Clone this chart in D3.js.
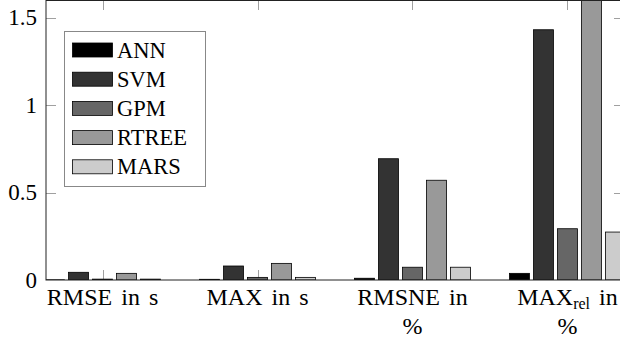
<!DOCTYPE html>
<html>
<head>
<meta charset="utf-8">
<script src="https://cdn.jsdelivr.net/npm/d3@7"></script>
</head>
<body style="margin:0">
<svg id="fig" width="620" height="339" style="display:block"></svg>
<script>
// ---- data ----
const categories = ["RMSE in s", "MAX in s", "RMSNE in %", "MAXrel in %"];
const series = ["ANN", "SVM", "GPM", "RTREE", "MARS"];
const ANN   = [0.001, 0.004, 0.010, 0.038];
const SVM   = [0.044, 0.080, 0.693, 1.430];
const GPM   = [0.005, 0.015, 0.073, 0.293];
const RTREE = [0.038, 0.095, 0.570, 1.750];
const MARS  = [0.005, 0.015, 0.073, 0.274];
const yTicks = [0, 0.5, 1, 1.5];
const yTickLabels = ["0", "0.5", "1", "1.5"];

const values = { ANN, SVM, GPM, RTREE, MARS };
const colors = { ANN: "#000000", SVM: "#333333", GPM: "#666666", RTREE: "#999999", MARS: "#cccccc" };

(function () {
  const FONT = "Liberation Serif";
  const FSTYLE = "font-family: 'Liberation Serif', serif !important";
  // ---- layout ----
  const svg = d3.select("#fig");
  const pLeft = 46, pRight = 624, pTop = 0.5, pBottom = 280;

  const x = d3.scalePoint().domain(categories).range([pLeft, pRight]).padding(0.365);
  const inner = d3.scaleBand().domain(series).range([-60, 60]).paddingInner(1/6).paddingOuter(1/12);
  const y = d3.scaleLinear().domain([0, 1.6]).range([pBottom, 0]);

  svg.append("defs").append("clipPath").attr("id", "clip")
    .append("rect").attr("x", pLeft).attr("y", 0).attr("width", pRight - pLeft).attr("height", pBottom);

  // ticks (drawn inside the frame)
  const tickG = svg.append("g").attr("stroke", "#a0a0a0").attr("stroke-width", 1);
  yTicks.forEach(t => {
    const yy = Math.round(y(t)) + 0.5;
    if (t === 0) return;
    tickG.append("line").attr("x1", pLeft).attr("x2", pLeft + 10).attr("y1", yy).attr("y2", yy);
    tickG.append("line").attr("x1", pRight - 10).attr("x2", pRight).attr("y1", yy).attr("y2", yy);
  });
  categories.forEach(c => {
    const xx = Math.round(x(c)) + 0.5;
    tickG.append("line").attr("x1", xx).attr("x2", xx).attr("y1", 0).attr("y2", 10);
    tickG.append("line").attr("x1", xx).attr("x2", xx).attr("y1", pBottom - 10).attr("y2", pBottom);
  });

  // bars
  const barsG = svg.append("g").attr("clip-path", "url(#clip)");
  series.forEach(s => {
    barsG.selectAll(null).data(categories.map((c, i) => ({ c, v: values[s][i] })))
      .enter().append("rect")
      .attr("x", d => x(d.c) + inner(s))
      .attr("width", inner.bandwidth())
      .attr("y", d => y(d.v))
      .attr("height", d => y(0) - y(d.v))
      .attr("fill", colors[s])
      .attr("stroke", "#000")
      .attr("stroke-width", 0.8);
  });

  // frame
  svg.append("rect")
    .attr("x", pLeft).attr("y", pTop).attr("width", pRight - pLeft).attr("height", pBottom - pTop)
    .attr("fill", "none").attr("stroke", "#222").attr("stroke-width", 1);

  // y tick labels
  yTicks.forEach((t, i) => {
    svg.append("text")
      .attr("x", pLeft - 9).attr("y", y(t)).attr("dy", "0.34em")
      .attr("text-anchor", "end").attr("font-size", 23)
      .attr("font-family", FONT).attr("style", FSTYLE)
      .text(yTickLabels[i]);
  });

  // x labels (wrapped like the reference)
  const xLabelLines = {
    "RMSE in s": ["RMSE in s"],
    "MAX in s": ["MAX in s"],
    "RMSNE in %": ["RMSNE in", "%"],
    "MAXrel in %": ["MAX_rel in", "%"]
  };
  categories.forEach(c => {
    xLabelLines[c].forEach((line, li) => {
      const t = svg.append("text")
        .attr("x", x(c)).attr("y", 305 + li * 29)
        .attr("text-anchor", "middle").attr("font-size", 24)
        .attr("word-spacing", 3)
        .attr("font-family", FONT).attr("style", FSTYLE);
      if (line.includes("_rel")) {
        const parts = line.split("_rel");
        t.append("tspan").text(parts[0]);
        t.append("tspan").attr("font-size", 16).attr("dy", 4).text("rel");
        t.append("tspan").attr("dy", -4).text(parts[1]);
      } else {
        t.text(line);
      }
    });
  });

  // legend
  const lg = svg.append("g");
  lg.append("rect").attr("x", 64.5).attr("y", 31.5).attr("width", 141).attr("height", 155)
    .attr("fill", "#fff").attr("stroke", "#888").attr("stroke-width", 1);
  series.forEach((s, i) => {
    const cy = 50 + i * 29.2;
    lg.append("rect").attr("x", 72.5).attr("y", cy - 7).attr("width", 40).attr("height", 14)
      .attr("fill", colors[s]).attr("stroke", "#000").attr("stroke-width", 0.8);
    lg.append("text").attr("x", 117).attr("y", cy + 7.5).attr("font-size", 22.5)
      .attr("font-family", FONT).attr("style", FSTYLE).text(s);
  });
})();
</script>
</body>
</html>
